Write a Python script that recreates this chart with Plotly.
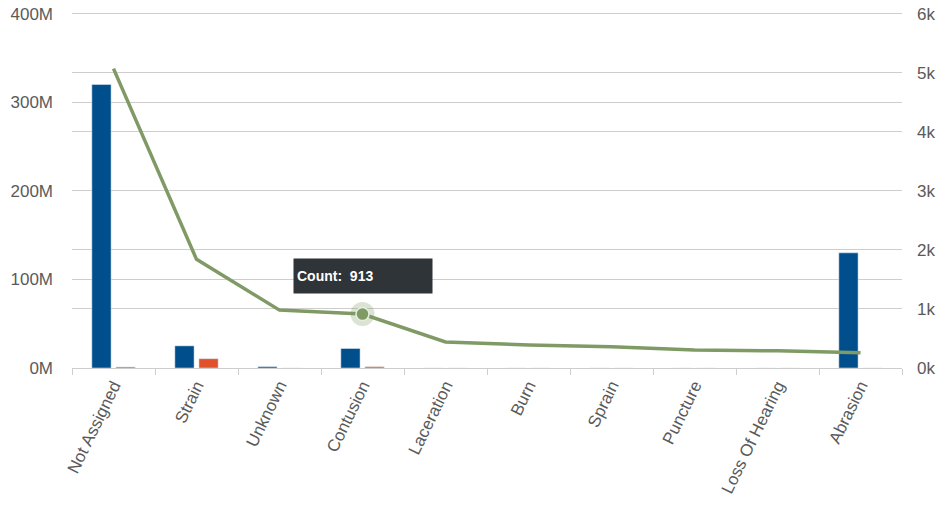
import plotly.graph_objects as go

categories = ["Not Assigned", "Strain", "Unknown", "Contusion", "Laceration",
              "Burn", "Sprain", "Puncture", "Loss Of Hearing", "Abrasion"]
amount_a = [320e6, 25e6, 1.5e6, 22e6, 0, 0, 0, 0, 0, 130e6]
amount_b = [1.2e6, 10.5e6, 0, 1.5e6, 0, 0, 0, 0, 0, 0]
counts = [5070, 1840, 980, 913, 440, 390, 360, 305, 290, 260]

left_ticks = [0, 100e6, 200e6, 300e6, 400e6]
left_labels = ["0M", "100M", "200M", "300M", "400M"]
right_ticks = [0, 1000, 2000, 3000, 4000, 5000, 6000]
right_labels = ["0k", "1k", "2k", "3k", "4k", "5k", "6k"]

hover_idx = 3

BLUE = "#004f8c"
RED = "#e0522b"
GREEN = "#7f9a64"
GRID = "#cdcdcd"
TXT = "#5a5a5a"

# small headroom so the top gridline is not clipped at the plot edge
HEAD = 403 / 400

fig = go.Figure()
fig.add_trace(go.Bar(x=categories, y=amount_a, marker_color=BLUE, yaxis="y"))
fig.add_trace(go.Bar(x=categories, y=amount_b, marker_color=RED, yaxis="y"))
fig.add_trace(go.Scatter(x=categories, y=counts, mode="lines", yaxis="y2",
                         line=dict(color=GREEN, width=3.5)))
# highlighted point with halo
fig.add_trace(go.Scatter(x=[categories[hover_idx]], y=[counts[hover_idx]], yaxis="y2",
                         mode="markers",
                         marker=dict(size=24, color="rgba(127,154,100,0.28)",
                                     line=dict(width=0))))
fig.add_trace(go.Scatter(x=[categories[hover_idx]], y=[counts[hover_idx]], yaxis="y2",
                         mode="markers",
                         marker=dict(size=13, color=GREEN,
                                     line=dict(width=1.5, color="#e8eedf"))))

fig.add_annotation(x=categories[hover_idx], y=counts[hover_idx], xref="x", yref="y2",
                   text="<b>Count:  %d</b>" % counts[hover_idx], showarrow=False,
                   yshift=38, width=132, height=28, align="left",
                   bgcolor="#2f3439", borderpad=3,
                   font=dict(color="white", size=14, family="Liberation Sans, Arial"))

fig.update_layout(
    width=943, height=508,
    margin=dict(l=72, r=41, t=11, b=140),
    paper_bgcolor="white", plot_bgcolor="white",
    showlegend=False,
    barmode="group", bargap=0.42, bargroupgap=0.2,
    font=dict(family="Liberation Sans, Arial, sans-serif", size=17, color=TXT),
    xaxis=dict(type="category", tickangle=-64, showgrid=False, automargin=False,
               showline=True, linecolor=GRID, linewidth=1,
               ticks="outside", tickson="boundaries", ticklen=6, tickcolor=GRID,
               tickfont=dict(size=17, color=TXT)),
    yaxis=dict(range=[0, 400e6 * HEAD], tickvals=left_ticks, ticktext=left_labels,
               showgrid=True, gridcolor=GRID, gridwidth=1, zeroline=False,
               automargin=False,
               ticklabelstandoff=18, tickfont=dict(size=17, color=TXT)),
    yaxis2=dict(range=[0, 6000 * HEAD], tickvals=right_ticks, ticktext=right_labels,
                overlaying="y", side="right", automargin=False,
                showgrid=True, gridcolor=GRID, gridwidth=1, zeroline=False,
                ticklabelstandoff=14, tickfont=dict(size=17, color=TXT)),
)

fig.write_html("out.html")
